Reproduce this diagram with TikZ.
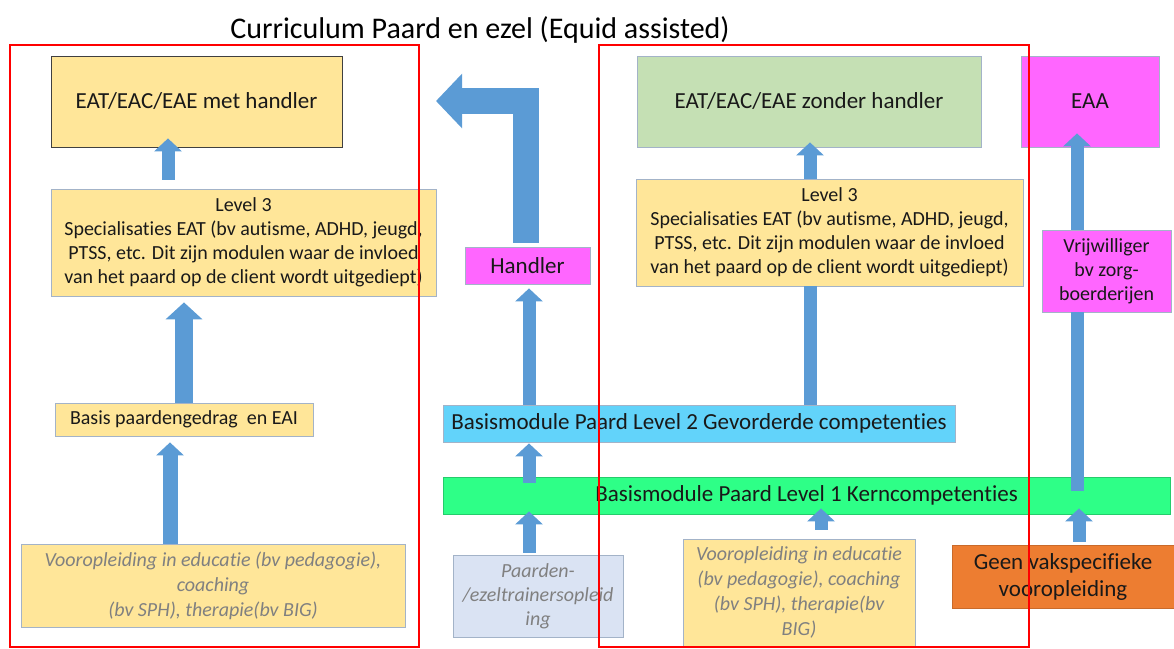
\documentclass[tikz,border=0pt]{standalone}
\usepackage{fontspec}
\setmainfont{Carlito}[Ligatures=NoCommon,Contextuals=NoAlternate]
\usetikzlibrary{arrows.meta}

\definecolor{boxyellow}{HTML}{FFE699}
\definecolor{boxgreen}{HTML}{C5E0B4}
\definecolor{boxpink}{HTML}{FF66FF}
\definecolor{boxsky}{HTML}{62D3FA}
\definecolor{boxlime}{HTML}{2EFF87}
\definecolor{boxpale}{HTML}{DAE3F3}
\definecolor{boxorange}{HTML}{ED7D31}
\definecolor{boxedge}{HTML}{A3B3C8}
\definecolor{arrowblue}{HTML}{5B9BD5}
\definecolor{textgray}{HTML}{808080}
\definecolor{framered}{HTML}{FF0000}

\begin{document}
\begin{tikzpicture}[x=1pt,y=-1pt,
    box/.style={draw=boxedge,line width=0.8pt,inner sep=2pt,align=center,text=black!90,font=\fontsize{23}{27}\selectfont},
    smallbox/.style={box,font=\fontsize{20}{24}\selectfont},
    greybox/.style={box,text=textgray,font=\fontsize{20}{25}\selectfont\itshape},
    arr/.style={draw=arrowblue,line width=13pt,-{Triangle[width=27pt,length=13pt]}},
    bigarr/.style={draw=arrowblue,line width=18pt,-{Triangle[width=36pt,length=17pt]}},
    shaft/.style={draw=arrowblue,line width=13pt},
    redframe/.style={draw=framered,line width=2.2pt}]
\useasboundingbox (0,0) rectangle (1174,648);

\node[font=\fontsize{30}{36}\selectfont] (title) at (480,30) {Curriculum Paard en ezel (Equid assisted)};

% linker kolom
\node[box,fill=boxyellow,draw=black!75,minimum width=291pt,minimum height=91pt] (eatL) at (196.5,101.5) {EAT/EAC/EAE met handler};
\node[smallbox,fill=boxyellow,minimum width=385pt,minimum height=107pt] (lvlL) at (243.5,242.5) {Level 3\\Specialisaties EAT (bv autisme, ADHD, jeugd,\\PTSS, etc. Dit zijn modulen waar de invloed\\van het paard op de client wordt uitgediept)};
\node[smallbox,fill=boxyellow,minimum width=258pt,minimum height=33pt] (basis) at (184,419.5) {Basis paardengedrag\ \ en EAI};
\node[greybox,fill=boxyellow,minimum width=384pt,minimum height=83pt] (voorL) at (213,585.5) {Vooropleiding in educatie (bv pedagogie),\\coaching\\(bv SPH), therapie(bv BIG)};

% midden
\node[box,fill=boxpink,minimum width=125pt,minimum height=37pt] (handler) at (527.5,265.5) {Handler};
\node[box,fill=boxsky,minimum width=512pt,minimum height=37pt] (lvl2) at (699,423.5) {Basismodule Paard Level 2 Gevorderde competenties};
\node[box,fill=boxlime,draw=boxlime!80!black,minimum width=727pt,minimum height=37pt] (lvl1) at (806.5,495.5) {Basismodule Paard Level 1 Kerncompetenties};
\node[greybox,fill=boxpale,font=\fontsize{20}{24}\selectfont\itshape,minimum width=170pt,minimum height=82pt] (paard) at (538,596) {Paarden-\\/ezeltrainersopleid\\ing};
\coordinate (hdlTip) at (436,101);

% rechter kolom
\node[box,fill=boxgreen,minimum width=344pt,minimum height=91pt] (eatR) at (809,101.5) {EAT/EAC/EAE zonder handler};
\node[smallbox,fill=boxyellow,minimum width=387pt,minimum height=107pt] (lvlR) at (829.5,232.5) {Level 3\\Specialisaties EAT (bv autisme, ADHD, jeugd,\\PTSS, etc. Dit zijn modulen waar de invloed\\van het paard op de client wordt uitgediept)};
\node[greybox,fill=boxyellow,minimum width=232pt,minimum height=107pt] (voorR) at (799,592.5) {Vooropleiding in educatie\\(bv pedagogie), coaching\\(bv SPH), therapie(bv\\BIG)};
\node[box,fill=boxpink,minimum width=138pt,minimum height=91pt] (eaa) at (1090,101.5) {EAA};
\node[smallbox,fill=boxpink,minimum width=129pt,minimum height=82pt] (vrij) at (1106.5,271) {Vrijwilliger\\bv zorg-\\boerderijen};
\node[box,fill=boxorange,draw=boxorange!85!black,font=\fontsize{23}{27}\selectfont,minimum width=222pt,minimum height=63pt] (geen) at (1063,576.5) {Geen vakspecifieke\\vooropleiding};

% kolommen voor de pijlen
\coordinate (cA) at (168,0);
\coordinate (cB) at (184,0);
\coordinate (cC) at (170,0);
\coordinate (cM) at (529,0);
\coordinate (cH) at (526,0);
\coordinate (cR) at (810,0);
\coordinate (cV) at (821,0);
\coordinate (cG) at (1079,0);
\coordinate (cE) at (1077,0);

\draw[arr,shorten <=9pt,shorten >=-9pt] (cA |- lvlL.north) -- (cA |- eatL.south);
\draw[bigarr,shorten >=6pt] (cB |- basis.north) -- (cB |- lvlL.south);
\draw[arr,line width=15pt,shorten >=6pt] (cC |- voorL.north) -- (cC |- basis.south);
\draw[draw=arrowblue,line width=26pt,line join=miter,-{Triangle[width=53pt,length=26pt]},shorten <=4pt] (cH |- handler.north) |- (hdlTip);
\draw[arr,shorten >=4pt] (cM |- lvl2.north) -- (cM |- handler.south);
\draw[arr,shorten <=-6pt,shorten >=1pt] (cM |- lvl1.north) -- (cM |- lvl2.south);
\draw[arr,shorten <=2pt,shorten >=-3pt] (cM |- paard.north) -- (cM |- lvl1.south);
\draw[shaft] (cR |- lvl2.north) -- (cR |- lvlR.south);
\draw[arr,shorten >=-5pt] (cR |- lvlR.north) -- (cR |- eatR.south);
\draw[arr,shorten <=9pt,shorten >=-6pt] (cV |- voorR.north) -- (cV |- lvl1.south);
\draw[arr,shorten <=3pt,shorten >=-6pt] (cG |- geen.north) -- (cG |- lvl1.south);
\draw[shaft,shorten <=-14pt] (cE |- lvl1.north) -- (cE |- vrij.south);
\draw[arr,shorten >=-14pt] (cE |- vrij.north) -- (cE |- eaa.south);

% rode kaders
\draw[redframe] (10,45) rectangle (419,647);
\draw[redframe] (599,45) rectangle (1029,647);
\end{tikzpicture}
\end{document}
